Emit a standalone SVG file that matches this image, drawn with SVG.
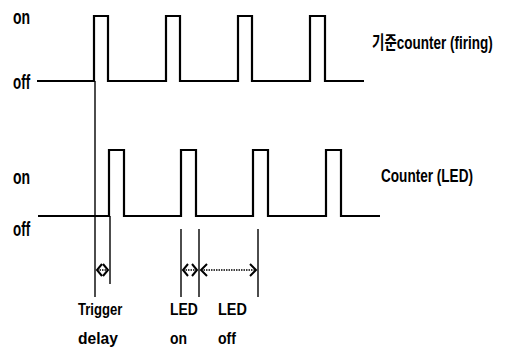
<svg xmlns="http://www.w3.org/2000/svg" width="509" height="348" viewBox="0 0 509 348">
<style>
.wave{fill:none;stroke:#000;stroke-width:2.2;stroke-linejoin:miter}
.mark{fill:none;stroke:#000;stroke-width:1.4}
.dim{fill:none;stroke:#000;stroke-width:1.4;stroke-dasharray:1.5 1}
.head{fill:none;stroke:#000;stroke-width:2}
text{font-family:"Liberation Sans","Noto Sans CJK KR",sans-serif;font-weight:bold;fill:#000}
.lvl{font-size:20px}
.lab{font-size:17px}
.sig{font-size:18px}
</style>
<rect width="509" height="348" fill="#fff"/>
<g id="firing-signal">
<path class="wave" d="M37,81 H94 V16 H108 V81 H166 V16 H180 V81 H238 V16 H252 V81 H310 V16 H325 V81 H364"/>
<text class="lvl" transform="translate(13,24) scale(0.7,1)">on</text>
<text class="lvl" transform="translate(13,89) scale(0.67,1)">off</text>
<text class="sig" transform="translate(372,49) scale(0.75,1)">기준counter (firing)</text>
</g>
<g id="led-signal">
<path class="wave" d="M38,216 H109 V150 H124 V216 H181 V150 H196 V216 H253 V150 H268 V216 H326 V150 H341 V216 H380"/>
<text class="lvl" transform="translate(13,184) scale(0.7,1)">on</text>
<text class="lvl" transform="translate(13,236) scale(0.67,1)">off</text>
<text class="sig" transform="translate(381,182) scale(0.754,1)">Counter (LED)</text>
</g>
<g id="connectors">
<line class="mark" x1="95" y1="81" x2="95" y2="297"/>
<line class="mark" x1="110" y1="216" x2="110" y2="284"/>
<line class="mark" x1="181" y1="229" x2="181" y2="297"/>
<line class="mark" x1="199" y1="229" x2="199" y2="297"/>
<line class="mark" x1="258" y1="229" x2="258" y2="297"/>
<line class="dim" x1="97" y1="270" x2="108" y2="270"/>
<path class="head" d="M102,264 L97,270 L102,276 M103,264 L108,270 L103,276"/>
<line class="dim" x1="183" y1="270" x2="197" y2="270"/>
<path class="head" d="M188,264 L183,270 L188,276 M192,264 L197,270 L192,276"/>
<line class="dim" x1="201" y1="270" x2="256" y2="270"/>
<path class="head" d="M207,264 L201,270 L207,276 M250,264 L256,270 L250,276"/>
</g>
<g id="labels">
<text class="lab" transform="translate(78,315) scale(0.77,1)">Trigger</text>
<text class="lab" transform="translate(78,344) scale(0.92,1)">delay</text>
<text class="lab" transform="translate(170,315) scale(0.82,1)">LED</text>
<text class="lab" transform="translate(170,344) scale(0.82,1)">on</text>
<text class="lab" transform="translate(218,315) scale(0.85,1)">LED</text>
<text class="lab" transform="translate(218,344) scale(0.83,1)">off</text>
</g>
</svg>
